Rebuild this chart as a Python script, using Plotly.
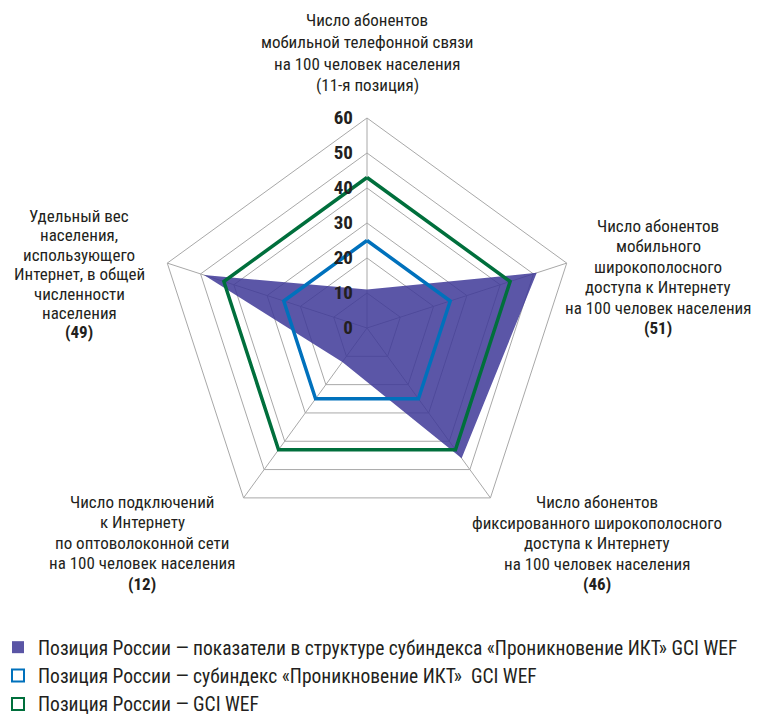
import plotly.graph_objects as go

# ---- data ----
categories = ["mobile", "mobile_bb", "fixed_bb", "fiber", "internet_users"]
russia_positions = [11, 51, 46, 12, 49]
subindex_position = [25, 25, 25, 25, 25]
gci_position = [43, 43, 43, 43, 43]
radial_ticks = [0, 10, 20, 30, 40, 50, 60]
series_names = [
    "Позиция России — показатели в структуре субиндекса «Проникновение ИКТ» GCI WEF",
    "Позиция России — субиндекс «Проникновение ИКТ»  GCI WEF",
    "Позиция России — GCI WEF",
]
axis_label_lines = [
    ["Число абонентов", "мобильной телефонной связи", "на 100 человек населения", "(11-я позиция)"],
    ["Число абонентов", "мобильного", "широкополосного", "доступа к Интернету", "на 100 человек населения", "<b>(51)</b>"],
    ["Число абонентов", "фиксированного широкополосного", "доступа к Интернету", "на 100 человек населения", "<b>(46)</b>"],
    ["Число подключений", "к Интернету", "по оптоволоконной сети", "на 100 человек населения", "<b>(12)</b>"],
    ["Удельный вес", "населения,", "использующего", "Интернет, в общей", "численности", "населения", "<b>(49)</b>"],
]

# ---- style / layout ----
W, H = 759, 719
OFF = 8  # page body margin offset (screen px = figure px + OFF)
FONT = "Roboto Condensed, Roboto"
TXT = "#231f20"
PURPLE_FILL = "rgba(62,56,152,0.85)"
PURPLE = "#5a55a5"
BLUE = "#0071bc"
GREEN = "#006f3c"
GRID = "#a8a8a8"

# label block anchors (screen px): center x, first line y, line step
label_pos = [(367, 20, 21.8), (658, 226, 20.4), (597, 502, 20.6), (142, 502, 20.4), (79, 216, 19.4)]

def closed(v):
    return list(v) + [v[0]]

def px(x):
    return (x - OFF) / W

def py(y):
    return 1 - (y - OFF) / H

fig = go.Figure()
fig.add_trace(go.Scatterpolar(
    r=closed(russia_positions), theta=closed(categories), fill="toself",
    fillcolor=PURPLE_FILL, line=dict(width=0, color=PURPLE), mode="lines",
    showlegend=False, hoverinfo="skip"))
fig.add_trace(go.Scatterpolar(
    r=closed(subindex_position), theta=closed(categories), mode="lines",
    line=dict(width=3.5, color=BLUE), showlegend=False))
fig.add_trace(go.Scatterpolar(
    r=closed(gci_position), theta=closed(categories), mode="lines",
    line=dict(width=3.5, color=GREEN), showlegend=False))

# legend-only entries (square swatches)
legend_styles = [
    dict(color=PURPLE, line=dict(color=PURPLE, width=0)),
    dict(color="white", line=dict(color=BLUE, width=3.5)),
    dict(color="white", line=dict(color=GREEN, width=3.5)),
]
for i, (name, mk) in enumerate(zip(series_names, legend_styles)):
    fig.add_trace(go.Scatterpolar(
        r=[None], theta=[None], mode="markers", name=name,
        marker=dict(symbol="square", size=15, **mk),
        legendgroup=str(i), showlegend=True))

annotations = []
for (cx, y0, step), lines in zip(label_pos, axis_label_lines):
    for j, txt in enumerate(lines):
        annotations.append(dict(
            x=px(cx), y=py(y0 + j * step), xref="paper", yref="paper",
            xanchor="center", yanchor="middle", text=txt, showarrow=False,
            font=dict(family=FONT, size=17, color=TXT)))

cx, cy, R = 367, 328, 210
fig.update_layout(
    width=W, height=H, margin=dict(l=0, r=0, t=0, b=0, autoexpand=False),
    paper_bgcolor="white", plot_bgcolor="white",
    font=dict(family=FONT, color=TXT),
    polar=dict(
        domain=dict(x=[px(cx - R), px(cx + R)], y=[py(cy + R), py(cy - R)]),
        bgcolor="white",
        gridshape="linear",
        radialaxis=dict(
            range=[0, 60], tickvals=radial_ticks, ticktext=[str(t) for t in radial_ticks],
            angle=90, tickangle=90, side="counterclockwise",
            showline=False, gridcolor=GRID, gridwidth=1,
            ticks="outside", ticklen=7, tickcolor="rgba(0,0,0,0)",
            tickfont=dict(family=FONT, size=19, color=TXT, weight="bold"),
        ),
        angularaxis=dict(
            direction="clockwise", rotation=90, categoryarray=categories,
            categoryorder="array", showticklabels=False, ticks="",
            gridcolor=GRID, gridwidth=1, showline=True, linecolor=GRID, linewidth=1,
        ),
    ),
    legend=dict(
        x=px(-2), y=py(628), xanchor="left", yanchor="top",
        font=dict(family=FONT, size=19.5, color=TXT),
        traceorder="grouped", tracegroupgap=0, itemsizing="constant",
        bgcolor="rgba(0,0,0,0)",
    ),
    annotations=annotations,
    showlegend=True,
)

fig.write_html("out.html")
